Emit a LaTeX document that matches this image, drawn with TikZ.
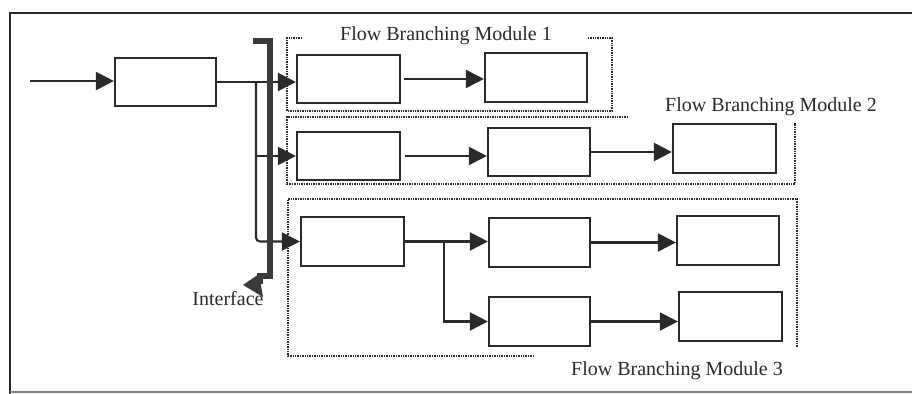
\documentclass[tikz,border=0pt]{standalone}
\usepackage{fontspec}
\setmainfont{Liberation Serif}
\usetikzlibrary{arrows.meta,fit}
\definecolor{ink}{HTML}{2A2A2A}
\definecolor{busc}{HTML}{3A3A3A}
\begin{document}
\begin{tikzpicture}[x=0.5pt,y=-0.5pt,
  blk/.style={draw=ink, line width=1.1pt, inner sep=0pt},
  arr/.style={draw=ink, line width=1.05pt, -{Triangle[length=9pt,width=9pt]}},
  dotbox/.style={draw=ink, line width=1.2pt, dash pattern=on 0.7pt off 0.5pt},
  bus/.style={draw=busc, line width=2.8pt},
  frame/.style={draw=ink, line width=1pt},
  lbl/.style={font=\fontsize{10}{12}\selectfont, inner sep=0pt, text=ink}]
\useasboundingbox (0,0) rectangle (912,394);
% frame
\draw[frame] (912,13) -- (10,13) -- (10,394);
\draw[frame, draw=gray] (10,392) -- (912,392);
% boxes
\node[blk, fit={(115,58) (216,106)}] (A) {};
\node[blk, fit={(297,55) (400,103)}] (B1) {};
\node[blk, fit={(485,53) (587,102)}] (B2) {};
\node[blk, fit={(297,132) (400,180)}] (C1) {};
\node[blk, fit={(488,128) (590,176)}] (C2) {};
\node[blk, fit={(673,124) (776,173)}] (C3) {};
\node[blk, fit={(301,217) (404,266)}] (D1) {};
\node[blk, fit={(489,218) (590,267)}] (D2) {};
\node[blk, fit={(677,216) (779,265)}] (D3) {};
\node[blk, fit={(489,297) (590,346)}] (D4) {};
\node[blk, fit={(679,292) (782,341)}] (D5) {};
% module frames
\draw[dotbox] (302,38) -- (287,38) -- (287,111) -- (612,111) -- (612,38) -- (587,38);
\draw[dotbox] (628,117) -- (287,117) -- (287,184) -- (795,184) -- (795,123);
\draw[dotbox] (534,356) -- (288,356) -- (288,199) -- (797,199) -- (797,347);
% connectors
\coordinate (in) at (30,81);
\draw[arr] (in) -- (in -| A.west);
\draw[arr] (A.east) -- (A.east -| B1.west);
\coordinate (j) at (256,82);
\draw[arr] (j |- C1.west) -- (C1.west);
\draw[arr, rounded corners=2pt] (j) |- (D1.west);
\draw[arr, shorten <=1.5pt] (B1.east) -- (B1.east -| B2.west);
\draw[arr, shorten <=2pt] (C1.east) -- (C1.east -| C2.west);
\draw[arr] (C2.east) -- (C2.east -| C3.west);
\draw[arr] (D1.east) -- (D1.east -| D2.west);
\path (D1.east) -- ++(39,0) coordinate (k);
\draw[arr] (k) |- (D4.west);
\draw[arr] (D2.east) -- (D2.east -| D3.west);
\draw[arr] (D4.east) -- (D4.east -| D5.west);
% interface bus
\draw[bus] (253,41) -- (270,41) -- (270,276) -- (260,276) -- (260,284);
\fill[busc] (243,285) -- (259,274) -- (263,297) -- cycle;
% labels
\node[lbl, anchor=base] (t1) at (446,41) {Flow Branching Module 1};
\node[lbl, anchor=base] (t2) at (771,112) {Flow Branching Module 2};
\node[lbl, anchor=base] (t3) at (677,376) {Flow Branching Module 3};
\node[lbl, anchor=base] (ti) at (228,306) {Interface};
\end{tikzpicture}
\end{document}
